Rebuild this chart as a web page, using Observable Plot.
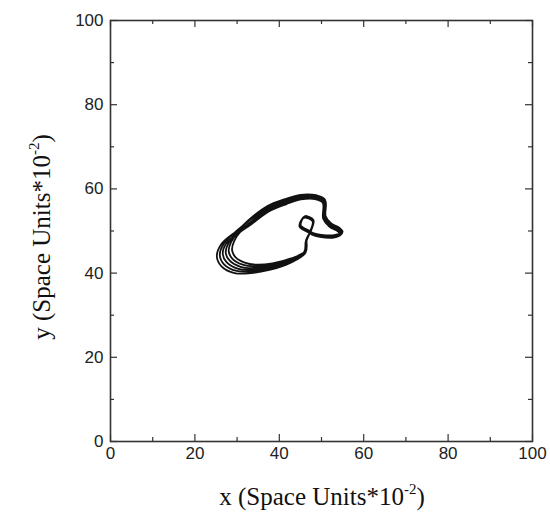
<!DOCTYPE html>
<html>
<head>
<meta charset="utf-8">
<script src="https://cdn.jsdelivr.net/npm/d3@7"></script>
<script src="https://cdn.jsdelivr.net/npm/@observablehq/plot@0.6"></script>
<style>
  html, body { margin: 0; padding: 0; background: #fff; }
</style>
</head>
<body>
<div id="chart"></div>
<script>
const xMajor = [0, 20, 40, 60, 80, 100];
const xMinor = [10, 30, 50, 70, 90];
const yMajor = [0, 20, 40, 60, 80, 100];
const yMinor = [10, 30, 50, 70, 90];
const xLabel = "x (Space Units*10";
const yLabel = "y (Space Units*10";
const expLabel = "-2";

const lap1 = [[46.4,47.9],[46.2,44.8],[42.7,42.5],[37.9,40.8],[33.2,40.0],[29.4,40.0],[26.3,41.6],[25.2,44.0],[26.2,46.8],[28.6,49.0],[32.4,51.5],[37.2,55.0],[41.5,56.8],[45.0,57.9],[48.6,57.9],[50.5,56.9],[50.7,53.1],[52.1,51.2],[54.0,50.2],[54.7,49.3],[52.8,48.6],[49.8,48.8],[47.9,49.3],[47.3,49.7],[44.9,51.2],[45.9,53.3],[48.0,52.4],[47.5,50.2]];
const lap2 = [[46.5,47.8],[46.0,44.9],[42.6,42.7],[38.0,41.1],[33.4,40.4],[29.9,40.5],[26.9,42.1],[25.9,44.3],[26.8,46.9],[29.0,49.2],[32.3,52.0],[37.0,55.5],[41.4,57.3],[45.0,58.3],[48.8,58.2],[50.9,57.2],[51.0,53.4],[52.5,51.5],[54.3,50.5],[54.9,49.5],[53.0,48.8],[50.0,49.0],[48.0,49.5],[47.4,49.9],[45.0,51.4],[46.0,53.5],[48.1,52.6],[47.6,50.4]];
const lap3 = [[46.3,47.7],[45.9,45.0],[42.5,42.9],[38.1,41.4],[33.6,40.8],[30.3,41.0],[27.5,42.6],[26.6,44.6],[27.4,47.0],[29.4,48.9],[32.7,51.1],[37.4,54.6],[41.7,56.4],[45.1,57.5],[48.5,57.6],[50.3,56.7],[50.4,52.9],[51.9,51.0],[53.8,50.0],[54.5,49.1],[52.6,48.4],[49.6,48.6],[47.8,49.1],[47.1,49.6],[44.8,51.0],[45.8,53.1],[47.9,52.3],[47.4,50.0]];
const lap4 = [[46.4,47.9],[46.1,44.9],[42.6,43.1],[38.2,41.7],[33.8,41.2],[30.8,41.5],[28.2,43.0],[27.3,44.9],[28.0,47.2],[29.8,49.6],[32.5,52.4],[37.1,55.9],[41.4,57.6],[45.0,58.6],[48.7,58.5],[50.8,57.5],[50.9,53.7],[52.3,51.8],[54.2,50.8],[55.0,49.8],[53.0,49.0],[49.9,49.1],[48.0,49.5],[47.3,49.8],[45.1,51.3],[46.1,53.5],[48.1,52.5],[47.6,50.3]];
const lap5 = [[46.5,47.8],[46.2,45.0],[42.7,43.3],[38.3,42.0],[34.0,41.6],[31.3,42.0],[28.9,43.4],[28.0,45.2],[28.6,47.4],[30.2,49.6],[32.9,51.9],[37.3,55.3],[41.6,57.1],[45.1,58.1],[48.6,58.1],[50.6,57.1],[50.8,53.3],[52.2,51.4],[54.1,50.4],[54.8,49.4],[52.8,48.7],[49.9,48.9],[48.0,49.4],[47.2,49.8],[44.9,51.2],[46.0,53.4],[48.0,52.5],[47.5,50.2]];
const lap6 = [[46.3,47.7],[46.0,45.1],[42.8,43.5],[38.4,42.3],[34.3,42.0],[31.8,42.5],[29.6,43.8],[28.8,45.5],[29.3,47.6],[30.7,49.7],[33.3,51.8],[37.5,54.8],[41.6,56.6],[44.9,57.7],[48.4,57.7],[50.4,56.8],[50.6,53.0],[52.0,51.1],[53.9,50.1],[54.6,49.2],[52.7,48.5],[49.7,48.7],[47.8,49.2],[47.2,49.7],[44.8,51.1],[45.8,53.2],[47.9,52.3],[47.4,50.1]];
const lastPoint = [[46.4,47.9]];

const laps = [lap1, lap2, lap3, lap4, lap5, lap6, lastPoint];
const path = laps.flat().map(([x, y]) => ({x, y}));

const W = 550, H = 517;
const mL = 110, mR = 18, mT = 20, mB = 76;
const innerW = W - mL - mR, innerH = H - mT - mB;
const majorLen = 7, minorLen = 4;
const axisColor = "#333";

const chart = Plot.plot({
  width: W,
  height: H,
  marginLeft: mL,
  marginRight: mR,
  marginTop: mT,
  marginBottom: mB,
  style: {fontFamily: "'Liberation Sans', Arial, sans-serif", fontSize: "17px", color: "#222", background: "#fff"},
  x: {domain: [0, 100]},
  y: {domain: [0, 100]},
  marks: [
    Plot.line(path, {x: "x", y: "y", curve: "catmull-rom", stroke: "#111", strokeWidth: 1.8}),
    Plot.ruleX(xMajor, {x: d => d, insetTop: innerH - majorLen, stroke: axisColor, strokeWidth: 1.2}),
    Plot.ruleX(xMajor, {x: d => d, insetBottom: innerH - majorLen, stroke: axisColor, strokeWidth: 1.2}),
    Plot.ruleX(xMinor, {x: d => d, insetTop: innerH - minorLen, stroke: axisColor, strokeWidth: 1.2}),
    Plot.ruleX(xMinor, {x: d => d, insetBottom: innerH - minorLen, stroke: axisColor, strokeWidth: 1.2}),
    Plot.ruleY(yMajor, {y: d => d, insetRight: innerW - majorLen, stroke: axisColor, strokeWidth: 1.2}),
    Plot.ruleY(yMajor, {y: d => d, insetLeft: innerW - majorLen, stroke: axisColor, strokeWidth: 1.2}),
    Plot.ruleY(yMinor, {y: d => d, insetRight: innerW - minorLen, stroke: axisColor, strokeWidth: 1.2}),
    Plot.ruleY(yMinor, {y: d => d, insetLeft: innerW - minorLen, stroke: axisColor, strokeWidth: 1.2}),
    Plot.axisX(xMajor, {anchor: "bottom", tickSize: 0, tickPadding: 5, label: null, fontSize: 17, stroke: null}),
    Plot.axisY(yMajor, {anchor: "left", tickSize: 0, tickPadding: 7, label: null, fontSize: 17, stroke: null}),
    Plot.frame({stroke: axisColor, strokeWidth: 1.6})
  ]
});

document.getElementById("chart").appendChild(chart);

const svg = d3.select(chart);
const serif = "'Liberation Serif', 'Times New Roman', serif";

function addLabel(textLabel, transform) {
  const t = svg.append("text")
    .attr("transform", transform)
    .attr("text-anchor", "middle")
    .attr("fill", "#111")
    .style("font-family", serif)
    .style("font-size", "25px");
  t.append("tspan").text(textLabel);
  t.append("tspan").attr("dy", -11).style("font-size", "15px").text(expLabel);
  t.append("tspan").attr("dy", 11).text(")");
}
addLabel(xLabel, "translate(322,505)");
addLabel(yLabel, "translate(50,237) rotate(-90)");
</script>
</body>
</html>
